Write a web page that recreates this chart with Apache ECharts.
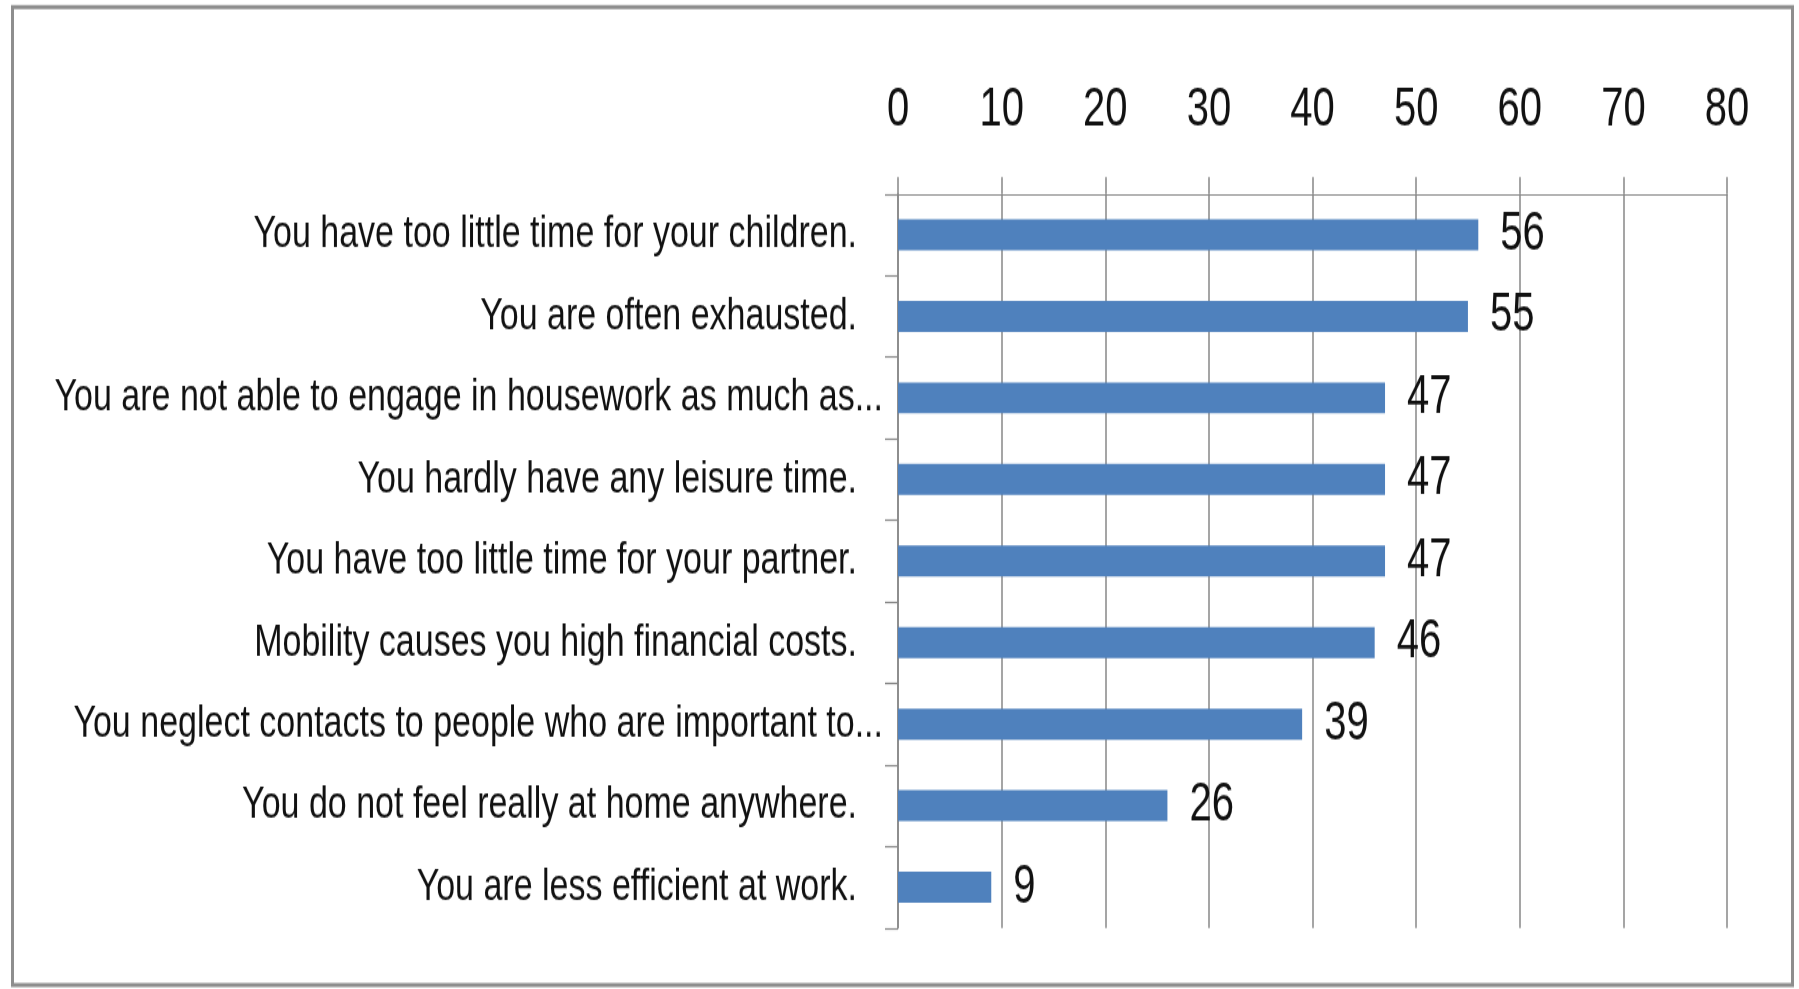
<!DOCTYPE html>
<html>
<head>
<meta charset="utf-8">
<title>Burdens of job mobility</title>
<script src="https://cdn.jsdelivr.net/npm/echarts@6/dist/echarts.min.js"></script>
<style>
  html, body { margin: 0; padding: 0; background: #ffffff; }
  #frame {
    position: relative;
    width: 1799px;
    height: 989px;
    overflow: hidden;
  }
  /* The chart is laid out on a shorter canvas and stretched vertically,
     which gives the tall, condensed lettering of the original figure. */
  #chart {
    position: absolute;
    left: 0;
    top: 0;
    width: 1799px;
    height: 733px;
    transform: scaleY(1.3493);
    transform-origin: 0 0;
  }
</style>
</head>
<body>
<div id="frame"><div id="chart"></div></div>
<script>
// Statements, top to bottom
const categories = [
  "You have too little time for your children.",
  "You are often exhausted.",
  "You are not able to engage in housework as much as...",
  "You hardly have any leisure time.",
  "You have too little time for your partner.",
  "Mobility causes you high financial costs.",
  "You neglect contacts to people who are important to...",
  "You do not feel really at home anywhere.",
  "You are less efficient at work."
];

// Share of respondents agreeing (%)
const values = [56, 55, 47, 47, 47, 46, 39, 26, 9];

// Value axis scale
const axisMin = 0;
const axisMax = 80;
const axisStep = 10;

const S = 1.3493;               // vertical stretch applied by CSS
const H = 733;                  // canvas height before stretch
const y = v => v / S;           // page y -> canvas y

const FONT = "'Liberation Sans', Arial, sans-serif";
const GRID_COLOR = '#878787';
const TEXT_COLOR = '#111111';
const CAT_SIZE = 34;

const chart = echarts.init(document.getElementById('chart'), null, { renderer: 'canvas' });

chart.setOption({
  backgroundColor: '#ffffff',
  animation: false,
  graphic: [{
    type: 'rect',
    silent: true,
    shape: { x: 12.5, y: y(7), width: 1780, height: y(978) },
    style: { fill: 'none', stroke: '#8e8e8e', lineWidth: 3 }
  }],
  grid: {
    left: 898,
    right: 72,
    top: y(194),
    bottom: H - y(928),
    containLabel: false
  },
  xAxis: {
    type: 'value',
    position: 'top',
    min: axisMin,
    max: axisMax,
    interval: axisStep,
    axisLine: { show: true, lineStyle: { color: GRID_COLOR, width: 1.2 } },
    axisTick: { show: true, length: y(17), lineStyle: { color: GRID_COLOR, width: 1.5 } },
    splitLine: { show: true, lineStyle: { color: GRID_COLOR, width: 1.5 } },
    axisLabel: {
      margin: y(56),
      fontFamily: FONT,
      fontSize: 40,
      color: TEXT_COLOR
    }
  },
  yAxis: {
    type: 'category',
    inverse: true,
    data: categories,
    axisLine: { show: true, lineStyle: { color: GRID_COLOR, width: 1.5 } },
    axisTick: { show: true, length: 13, lineStyle: { color: GRID_COLOR, width: 1.2 } },
    axisLabel: {
      margin: 15,
      fontFamily: FONT,
      fontSize: CAT_SIZE,
      color: TEXT_COLOR,
      formatter: v => v.endsWith('...') ? '{t|' + v + '}' : '{p|' + v + '}',
      rich: {
        t: { fontFamily: FONT, fontSize: CAT_SIZE, color: TEXT_COLOR },
        p: { fontFamily: FONT, fontSize: CAT_SIZE, color: TEXT_COLOR, padding: [0, 26, 0, 0] }
      }
    }
  },
  series: [{
    type: 'bar',
    data: values,
    barWidth: y(31),
    itemStyle: { color: '#4F81BD' },
    label: {
      show: true,
      position: 'right',
      distance: 22,
      fontFamily: FONT,
      fontSize: 40,
      color: TEXT_COLOR
    }
  }]
});
</script>
</body>
</html>
